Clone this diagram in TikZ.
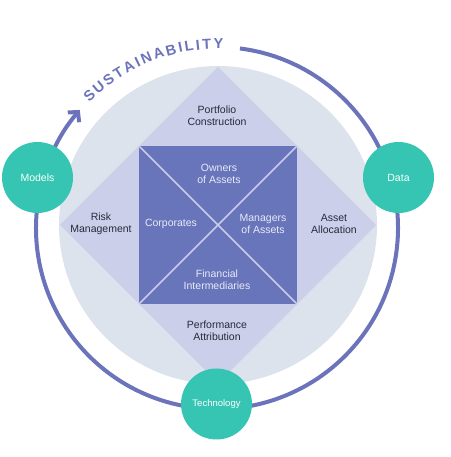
\documentclass[tikz,border=0pt]{standalone}
\usepackage{fontspec}
\setmainfont{Liberation Sans}
\usetikzlibrary{decorations.text,arrows.meta}
\definecolor{ringc}{RGB}{107,115,186}
\definecolor{sqc}{RGB}{104,117,187}
\definecolor{diac}{RGB}{203,207,233}
\definecolor{bgc}{RGB}{221,227,236}
\definecolor{grc}{RGB}{53,197,178}
\definecolor{labc}{RGB}{40,42,58}
\definecolor{sqtxt}{RGB}{232,234,247}
\definecolor{diagc}{RGB}{200,204,232}
\begin{document}
\begin{tikzpicture}[x=1pt,y=1pt,
  lab/.style={align=center,font=\fontsize{10.5}{12}\selectfont,text=labc},
  sqlab/.style={align=center,font=\fontsize{10.5}{12}\selectfont,text=sqtxt},
  hub/.style={circle,fill=grc,minimum size=71pt,inner sep=0pt,font=\fontsize{10.5}{12}\selectfont,text=white},
  ring/.style={draw=ringc,line width=4pt}]
\useasboundingbox (0,0) rectangle (450,457);
\coordinate (C) at (217,229);
\coordinate (O) at (218,232);
\fill[bgc] (O) circle[radius=159];
\coordinate (dt) at (218,390);
\coordinate (dr) at (376,232);
\coordinate (db) at (218,74);
\coordinate (dl) at (60,232);
\fill[diac] (dt) -- (dr) -- (db) -- (dl) -- cycle;
\coordinate (s1) at (139,311);
\coordinate (s2) at (297,311);
\coordinate (s3) at (297,153);
\coordinate (s4) at (139,153);
\fill[sqc] (s1) rectangle (s3);
\draw[diagc,line width=1.5pt] (s1) -- (s3) (s2) -- (s4);
\node[lab] (pc) at (217,341) {Portfolio\\Construction};
\node[lab] (rm) at (101,233) {Risk\\Management};
\node[lab] (aa) at (334,233) {Asset\\Allocation};
\node[lab] (pa) at (217,126) {Performance\\Attribution};
\node[sqlab] (oa) at (219,283) {Owners\\of Assets};
\node[sqlab] (co) at (171,233) {Corporates};
\node[sqlab] (ma) at (263,233) {Managers\\of Assets};
\node[sqlab] (fi) at (217,177) {Financial\\Intermediaries};
\draw[ring,-{Straight Barb[length=7pt,width=15pt]}] ([shift={(82.7:181)}]C) arc[start angle=82.7,end angle=-220.7,radius=181];
\path[decorate,decoration={text along path,text align=fit to path,
  text={|\fontsize{14.5}{14.5}\selectfont\bfseries\color{ringc}|SUSTAINABILITY}}]
  ([shift={(135.5:179)}]C) arc[start angle=135.5,end angle=88,radius=179];
\node[hub] (models) at (37.5,279.5) {Models};
\node[hub] (data) at (398.5,279.5) {Data};
\node[hub,font=\fontsize{9.5}{12}\selectfont] (tech) at (216.5,53) {Technology};
\end{tikzpicture}
\end{document}
